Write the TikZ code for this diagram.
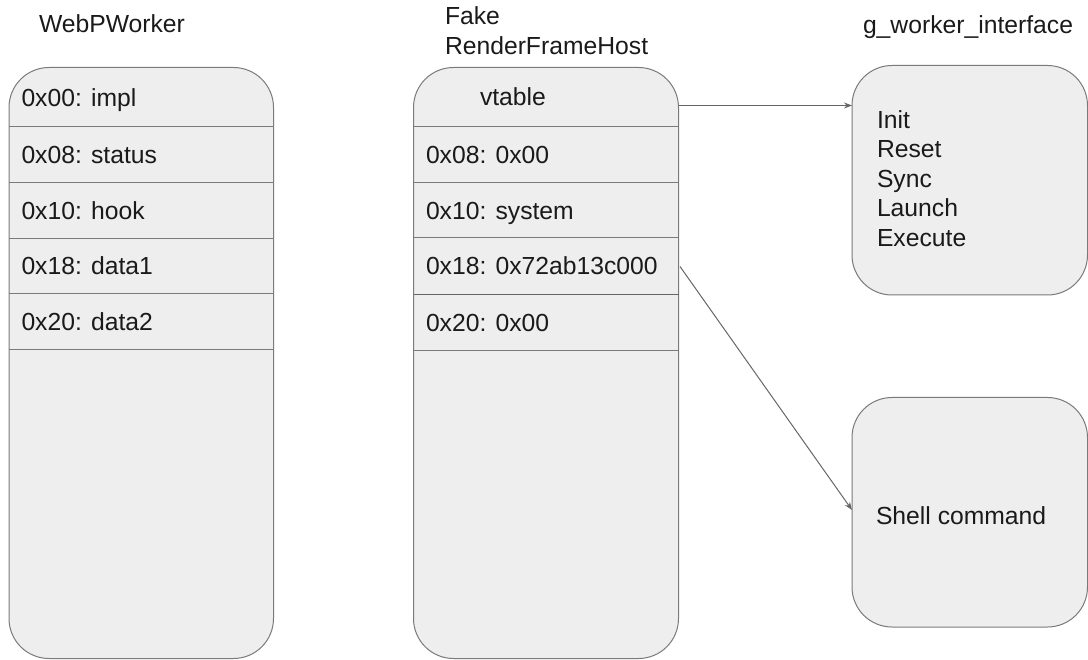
\documentclass[tikz,border=0pt]{standalone}
\usepackage{fontspec}
\setmainfont{Liberation Sans}
\usetikzlibrary{arrows.meta}
\definecolor{boxfill}{HTML}{EEEEEE}
\definecolor{boxline}{HTML}{7A7A7A}
\definecolor{arrowline}{HTML}{666666}
\definecolor{txt}{HTML}{1A1A1A}
\begin{document}
\begin{tikzpicture}[x=1pt,y=-1pt,
  every node/.style={font=\fontsize{24.7}{29.5}\selectfont, text=txt, inner sep=0pt, outer sep=0pt},
  memblock/.style={fill=boxfill, draw=boxline, line width=1pt, rounded corners=40pt},
  sepline/.style={draw=boxline, line width=1pt},
  septhick/.style={draw=arrowline, line width=1.8pt},
  label/.style={anchor=base west},
  link/.style={draw=arrowline, line width=1pt, -{Stealth[length=8pt,width=6pt]}}
]
\useasboundingbox (0,0) rectangle (1088,660);

% boxes
\draw[memblock] (9,67.5) rectangle (273.5,658.5);
\draw[memblock] (413.5,67.5) rectangle (678.5,658.5);
\draw[memblock] (852,65.5) rectangle (1087.5,295);
\draw[memblock] (852,397.5) rectangle (1087.5,627);

% named anchors for box edges
\coordinate (wpL) at (9,0);   \coordinate (wpR) at (273.5,0);
\coordinate (frL) at (413.5,0); \coordinate (frR) at (678.5,0);

% separators WebPWorker
\foreach \yy in {127,183,239,294,350}{
  \draw[sepline] (wpL |- 0,\yy) -- (wpR |- 0,\yy);
}
% separators FakeRenderFrameHost
\foreach \yy in {127,183,238}{
  \draw[sepline] (frL |- 0,\yy) -- (frR |- 0,\yy);
}
\draw[septhick] (frL |- 0,294.5) -- (frR |- 0,294.5);
\draw[sepline] (frL |- 0,351) -- (frR |- 0,351);

% headers
\node[label] (hwp) at (39,32.5) {WebPWorker};
\node[label] (hfake) at (445,25) {Fake};
\node[label] (hrfh) at (445,54.5) {RenderFrameHost};
\node[label] (hgwi) at (863,33.5) {g\_worker\_interface};

% WebPWorker fields
\node[label] (w00) at (21.5,107) {0x00: impl};
\node[label] (w08) at (21.5,164) {0x08: status};
\node[label] (w10) at (21.5,219.5) {0x10: hook};
\node[label] (w18) at (21.5,275) {0x18: data1};
\node[label] (w20) at (21.5,331) {0x20: data2};

% FakeRenderFrameHost fields
\node[label] (fvt) at (480,106) {vtable};
\node[label] (f08) at (426,164) {0x08: 0x00};
\node[label] (f10) at (426,220) {0x10: system};
\node[label] (f18) at (426,275) {0x18: 0x72ab13c000};
\node[label] (f20) at (426,331.5) {0x20: 0x00};

% interface entries
\node[label] (iinit) at (877,128.5) {Init};
\node[label] (ireset) at (877,158) {Reset};
\node[label] (isync) at (877,187.5) {Sync};
\node[label] (ilaunch) at (877,217) {Launch};
\node[label] (iexec) at (877,246.5) {Execute};

\node[label] (shell) at (876,524) {Shell command};

% connectors
\coordinate (s1) at (679,105.5);
\coordinate (e1) at (852,105.5);
\coordinate (s2) at (680,266.5);
\coordinate (e2) at (852,510);
\draw[link] (s1) -- (e1);
\draw[link] (s2) -- (e2);
\end{tikzpicture}
\end{document}
